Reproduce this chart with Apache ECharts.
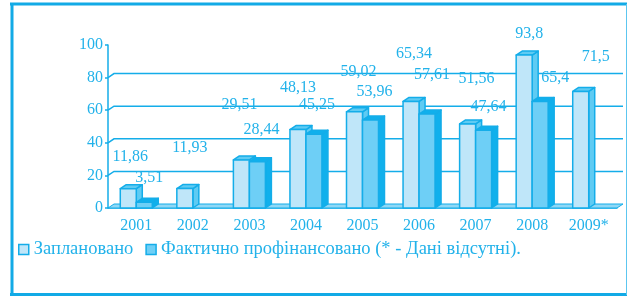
<!DOCTYPE html>
<html>
<head>
<meta charset="utf-8">
<style>
html,body{margin:0;padding:0;background:#fff}
#main{width:628px;height:297px}
</style>
<script src="https://cdn.jsdelivr.net/npm/echarts@6/dist/echarts.min.js"></script>
</head>
<body>
<div id="main"></div>
<script>
// роки
var years = ['2001', '2002', '2003', '2004', '2005', '2006', '2007', '2008', '2009*'];
// заплановано
var planned = [11.86, 11.93, 29.51, 48.13, 59.02, 65.34, 51.56, 93.8, 71.5];
// фактично профінансовано (null - дані відсутні)
var funded = [3.51, null, 28.44, 45.25, 53.96, 57.61, 47.64, 65.4, null];
// лінії сітки на задній стінці
var wallTicks = [20, 40, 60, 80];

// зсув підписів від верху стовпчика (px)
var plannedLabelDx = [-6, -3, -10, -8, -4, -5, 1, -3, 7];
var plannedLabelDy = [-32, -41, -55, -42, -40, -48, -45, -21, -35];
var fundedLabelDx = [13, 0, 12, 11, 12, 13, 13, 23, 0];
var fundedLabelDy = [-24, 0, -32, -29, -28, -39, -24, -24, 0];

var BLUE = '#14ade9';
var TEXT = '#22b2ea';
var FONT = 'Liberation Serif';
var BAR_W = 16;
var DX = 6, DY = 4;

function fmt(v) {
    return String(v).replace('.', ',');
}

function bar3d(side, values, dxArr, dyArr, front, sideColor) {
    return function (params, api) {
        var i = params.dataIndex;
        if (values[i] == null) return;
        var base = api.coord([i, 0]);
        var top = api.coord([i, values[i]]);
        var cx = base[0];
        var x0 = side < 0 ? cx - BAR_W : cx;
        var x1 = x0 + BAR_W;
        var y0 = base[1], y1 = top[1];
        var st = {stroke: BLUE, lineWidth: 1.5, lineJoin: 'round'};
        return {
            type: 'group',
            children: [
                {type: 'polygon', shape: {points: [[x1, y0], [x1 + DX, y0 - DY], [x1 + DX, y1 - DY], [x1, y1]]},
                    style: Object.assign({fill: sideColor}, st)},
                {type: 'polygon', shape: {points: [[x0, y1], [x0 + DX, y1 - DY], [x1 + DX, y1 - DY], [x1, y1]]},
                    style: Object.assign({fill: sideColor}, st)},
                {type: 'rect', shape: {x: x0, y: y1, width: BAR_W, height: y0 - y1},
                    style: Object.assign({fill: front}, st)},
                {type: 'text', z2: 10, style: {
                    text: fmt(values[i]), x: cx + dxArr[i], y: y1 + dyArr[i],
                    align: 'center', verticalAlign: 'middle', textAlign: 'center', textVerticalAlign: 'middle',
                    font: '16px "' + FONT + '"', fill: TEXT
                }}
            ]
        };
    };
}

var myChart = echarts.init(document.getElementById('main'));
var option = {
    animation: false,
    grid: {left: 108, right: 11, top: 45, bottom: 89},
    xAxis: {
        type: 'category',
        data: years,
        axisLine: {lineStyle: {color: BLUE, width: 1.5}},
        axisTick: {length: 4, lineStyle: {color: BLUE, width: 1.5}},
        axisLabel: {margin: 10, color: TEXT, fontFamily: FONT, fontSize: 16},
        splitLine: {show: false}
    },
    yAxis: {
        type: 'value',
        min: 0, max: 100, interval: 20,
        axisLine: {show: true, lineStyle: {color: BLUE, width: 1.5}},
        axisTick: {show: true, length: 3, lineStyle: {color: BLUE, width: 1.5}},
        axisLabel: {margin: 5, color: TEXT, fontFamily: FONT, fontSize: 16},
        splitLine: {show: false}
    },
    legend: {
        left: 13, top: 235,
        itemWidth: 10, itemHeight: 10, itemGap: 12,
        textStyle: {color: TEXT, fontFamily: FONT, fontSize: 18.5},
        selectedMode: false,
        data: [
            {name: 'Заплановано', icon: 'rect', itemStyle: {color: '#bfe6f9', borderColor: BLUE, borderWidth: 1.5}},
            {name: 'Фактично профінансовано (* - Дані відсутні).', icon: 'rect', itemStyle: {color: '#6ecff6', borderColor: BLUE, borderWidth: 1.5}}
        ]
    },
    graphic: [
        {type: 'line', shape: {x1: 10, y1: 4, x2: 627, y2: 4}, style: {stroke: '#12aae6', lineWidth: 3}},
        {type: 'line', shape: {x1: 12, y1: 3, x2: 12, y2: 295}, style: {stroke: '#12aae6', lineWidth: 3}},
        {type: 'line', shape: {x1: 10, y1: 294.5, x2: 627, y2: 294.5}, style: {stroke: '#12aae6', lineWidth: 3}},
        {type: 'line', shape: {x1: 626.5, y1: 4, x2: 626.5, y2: 295}, style: {stroke: '#5cc6f0', lineWidth: 1}}
    ],
    series: [
        {
            // задня стінка: сітка та підлога
            type: 'custom',
            name: 'wall',
            silent: true,
            z: 1,
            data: wallTicks.map(function (v) { return [0, v]; }),
            renderItem: function (params, api) {
                var v = wallTicks[params.dataIndex];
                var a = api.coord([0, v]);
                var x0 = params.coordSys.x;
                var x1 = x0 + params.coordSys.width;
                var children = [
                    {type: 'polyline', shape: {points: [[x0, a[1]], [x0 + DX, a[1] - DY], [x1 + DX, a[1] - DY]]},
                        style: {stroke: BLUE, lineWidth: 1.5, fill: null}}
                ];
                if (params.dataIndex === 0) {
                    var b = api.coord([0, 0]);
                    children.push({type: 'polygon',
                        shape: {points: [[x0, b[1]], [x0 + DX, b[1] - DY], [x1 + DX, b[1] - DY], [x1, b[1]]]},
                        style: {fill: '#8fd8f6', stroke: BLUE, lineWidth: 1}});
                }
                return {type: 'group', children: children};
            }
        },
        {
            type: 'custom',
            name: 'Заплановано',
            z: 3,
            itemStyle: {color: '#bfe6f9'},
            data: planned.map(function (v, i) { return [i, v]; }),
            renderItem: bar3d(-1, planned, plannedLabelDx, plannedLabelDy, '#bfe6f9', '#5fcbf3')
        },
        {
            type: 'custom',
            name: 'Фактично профінансовано (* - Дані відсутні).',
            z: 4,
            itemStyle: {color: '#6ecff6'},
            data: funded.map(function (v, i) { return [i, v == null ? 0 : v]; }),
            renderItem: bar3d(1, funded, fundedLabelDx, fundedLabelDy, '#6ecff6', '#10b0ec')
        }
    ]
};
myChart.setOption(option);
</script>
</body>
</html>
